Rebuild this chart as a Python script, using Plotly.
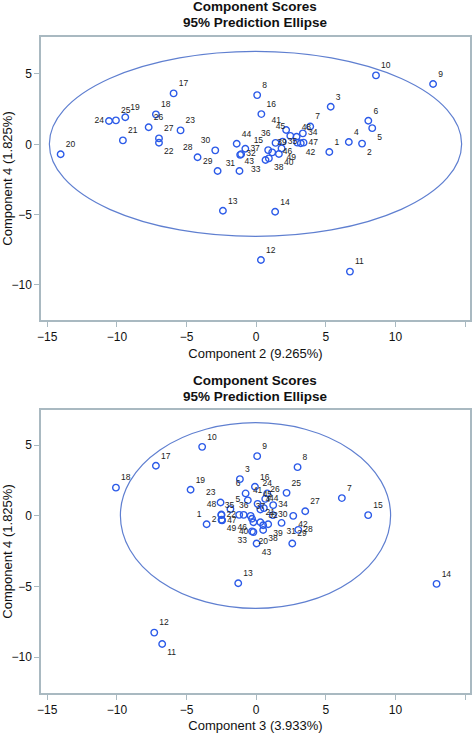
import plotly.graph_objects as go

# ---------------- data ----------------
obs_ids = [str(i) for i in range(1, 50)]

# Top panel: Component 2 (x) vs Component 4 (y)
top_comp2 = [5.25, 7.6, 5.35, 6.65, 8.33, 8.05, 3.88, 0.07, 12.7, 8.6,
             6.73, 0.34, -2.39, 1.36, 0.86, 0.37, -5.93, -7.2, -9.4, -14.04,
             -9.57, -6.98, -5.43, -10.57, -10.07, -7.72, -6.98, -4.21, -2.77, -2.94,
             -1.15, -1.08, 0.67, 3.35, 1.9, 1.39, -0.78, 0.91, 1.15, 1.63,
             2.15, 3.2, -1.2, -1.4, 2.45, 2.95, 3.4, 2.9, 1.82]
top_comp4 = [-0.55, 0.05, 2.67, 0.17, 1.15, 1.68, 1.27, 3.5, 4.29, 4.9,
             -9.05, -8.22, -4.72, -4.79, -0.41, 2.15, 3.62, 2.13, 1.92, -0.71,
             0.28, 0.11, 0.99, 1.66, 1.7, 1.21, 0.42, -0.92, -1.9, -0.43,
             -0.75, -0.7, -1.12, 0.78, 0.19, 0.1, -0.32, -1.0, -0.57, -0.69,
             1.02, 0.08, -1.9, 0.04, 0.6, 0.12, 0.12, 0.54, -0.29]

# Bottom panel: Component 3 (x) vs Component 4 (y)
bot_comp3 = [-3.56, -2.48, -1.17, 0.3, -1.85, -0.76, 6.15, 2.97, 0.07, -3.88,
             -6.75, -7.32, -1.29, 12.95, 8.04, -0.09, -7.2, -10.07, -4.71, -0.2,
             0.3, -2.5, -2.56, 0.79, 2.18, 0.65, 3.52, 3.02, 2.59, 1.2,
             1.82, 0.5, -0.3, 1.22, -1.22, -0.9, -0.4, 0.5, 0.86, -0.2,
             -0.6, 2.66, 0.03, 0.55, 0.1, -0.3, -2.45, -2.5, -2.48]
bot_comp4 = [-0.59, -0.3, 2.6, 0.45, 0.48, 1.59, 1.26, 3.45, 4.23, 4.89,
             -9.08, -8.27, -4.77, -4.82, 0.05, 2.06, 3.55, 2.0, 1.85, -1.15,
             -0.45, 0.05, 0.95, 1.59, 1.63, 1.2, 0.33, -0.99, -1.96, 0.05,
             -0.5, -0.66, -1.1, 0.76, 0.07, 0.07, 0.0, -1.0, -0.59, -0.45,
             1.1, 0.0, -1.96, 0.55, 0.85, -0.2, -0.32, 0.1, -0.28]

# 95% prediction ellipses (center, semi-axes)
top_ellipse = dict(cx=-0.05, cy=0.03, ax=14.8, ay=6.58)
bot_ellipse = dict(cx=-0.05, cy=0.02, ax=9.7, ay=6.58)

x_ticks = [-15, -10, -5, 0, 5, 10, 15]
y_ticks = [-10, -5, 0, 5]

titles = ["<b>Component Scores</b>", "<b>95% Prediction Ellipse</b>"]
top_xlabel = "Component 2 (9.265%)"
bot_xlabel = "Component 3 (3.933%)"
ylabel = "Component 4 (1.825%)"

# ---------------- label placement (style) ----------------
top_pos = {"2": "bottom right", "5": "bottom right", "22": "bottom right",
           "24": "middle left", "28": "top left", "29": "top left", "30": "top left",
           "31": "bottom left", "33": "bottom left", "15": "top left", "36": "top left",
           "41": "top left", "38": "bottom right", "40": "bottom right",
           "42": "bottom right", "46": "bottom left", "47": "middle right",
           "49": "bottom right", "32": "middle right", "37": "middle right",
           "34": "middle right", "35": "middle right", "45": "top left"}
bot_pos = {"1": "top left", "2": "middle left", "11": "bottom right", "6": "top left",
           "22": "middle right", "47": "middle right", "49": "bottom right",
           "48": "top left", "23": "top left", "33": "bottom left", "20": "bottom right",
           "38": "bottom right", "43": "bottom right", "39": "bottom right",
           "31": "bottom right", "28": "middle right", "42": "bottom right",
           "30": "middle right", "24": "top center", "40": "bottom left",
           "46": "bottom left", "35": "top left", "36": "top center", "44": "top right",
           "34": "middle right", "5": "top right", "26": "top right"}

MARK = "#2b5ae8"
ELL = "#5f7fd0"
FRAME = "#a9b9c1"
FONT = "Liberation Sans, Arial, sans-serif"

fig = go.Figure()

fig.add_trace(go.Scatter(
    x=top_comp2, y=top_comp4, text=obs_ids, mode="markers+text",
    textposition=[top_pos.get(t, "top right") for t in obs_ids],
    textfont=dict(size=8.5, color="#222", family=FONT),
    marker=dict(symbol="circle-open", size=6.5, color=MARK, line=dict(width=1.4, color=MARK)),
    xaxis="x", yaxis="y", showlegend=False, cliponaxis=False))
fig.add_trace(go.Scatter(
    x=bot_comp3, y=bot_comp4, text=obs_ids, mode="markers+text",
    textposition=[bot_pos.get(t, "top right") for t in obs_ids],
    textfont=dict(size=8.5, color="#222", family=FONT),
    marker=dict(symbol="circle-open", size=6.5, color=MARK, line=dict(width=1.4, color=MARK)),
    xaxis="x2", yaxis="y2", showlegend=False, cliponaxis=False))

for e, xr, yr in [(top_ellipse, "x", "y"), (bot_ellipse, "x2", "y2")]:
    fig.add_shape(type="circle", xref=xr, yref=yr,
                  x0=e["cx"] - e["ax"], x1=e["cx"] + e["ax"],
                  y0=e["cy"] - e["ay"], y1=e["cy"] + e["ay"],
                  line=dict(color=ELL, width=1.2), layer="below")

W, H = 472, 733
xdom = [41 / W, 470 / W]
top_dom = [1 - 320 / H, 1 - 37 / H]
bot_dom = [1 - 693 / H, 1 - 410 / H]

def xax(dom_y_anchor, title):
    return dict(domain=xdom, range=[-15.45, 15.35], tickvals=x_ticks,
                ticks="outside", ticklen=5, tickcolor=FRAME, showline=True,
                linecolor=FRAME, linewidth=1.5, mirror=True, showgrid=False,
                zeroline=False, anchor=dom_y_anchor, automargin=False,
                tickfont=dict(size=12, color="#111", family=FONT),
                title=dict(text=title, font=dict(size=13, color="#111", family=FONT), standoff=6))

def yax(dom, rng, anchor):
    return dict(domain=dom, range=rng, tickvals=y_ticks,
                ticks="outside", ticklen=5, tickcolor=FRAME, showline=True,
                linecolor=FRAME, linewidth=1.5, mirror=True, showgrid=False,
                zeroline=False, anchor=anchor, automargin=False,
                tickfont=dict(size=12, color="#111", family=FONT),
                title=dict(text=ylabel, font=dict(size=13, color="#111", family=FONT), standoff=4))

fig.update_layout(
    width=W, height=H, margin=dict(l=0, r=0, t=0, b=0, autoexpand=False),
    paper_bgcolor="white", plot_bgcolor="white",
    xaxis=xax("y", top_xlabel), yaxis=yax(top_dom, [-12.49, 7.63], "x"),
    xaxis2=xax("y2", bot_xlabel), yaxis2=yax(bot_dom, [-12.55, 7.5], "x2"),
    font=dict(family=FONT),
)

title_y = [(6.5, 22.5), (380, 396)]
for (y1, y2) in title_y:
    for txt, yy in zip(titles, (y1, y2)):
        fig.add_annotation(text=txt, xref="paper", yref="paper",
                           x=255.5 / W, y=1 - yy / H, showarrow=False,
                           xanchor="center", yanchor="middle",
                           font=dict(size=13.5, color="#111", family=FONT))

fig.write_html("out.html", config={"displayModeBar": False},
               post_script="document.body.style.margin='0';document.body.style.overflow='hidden';")
